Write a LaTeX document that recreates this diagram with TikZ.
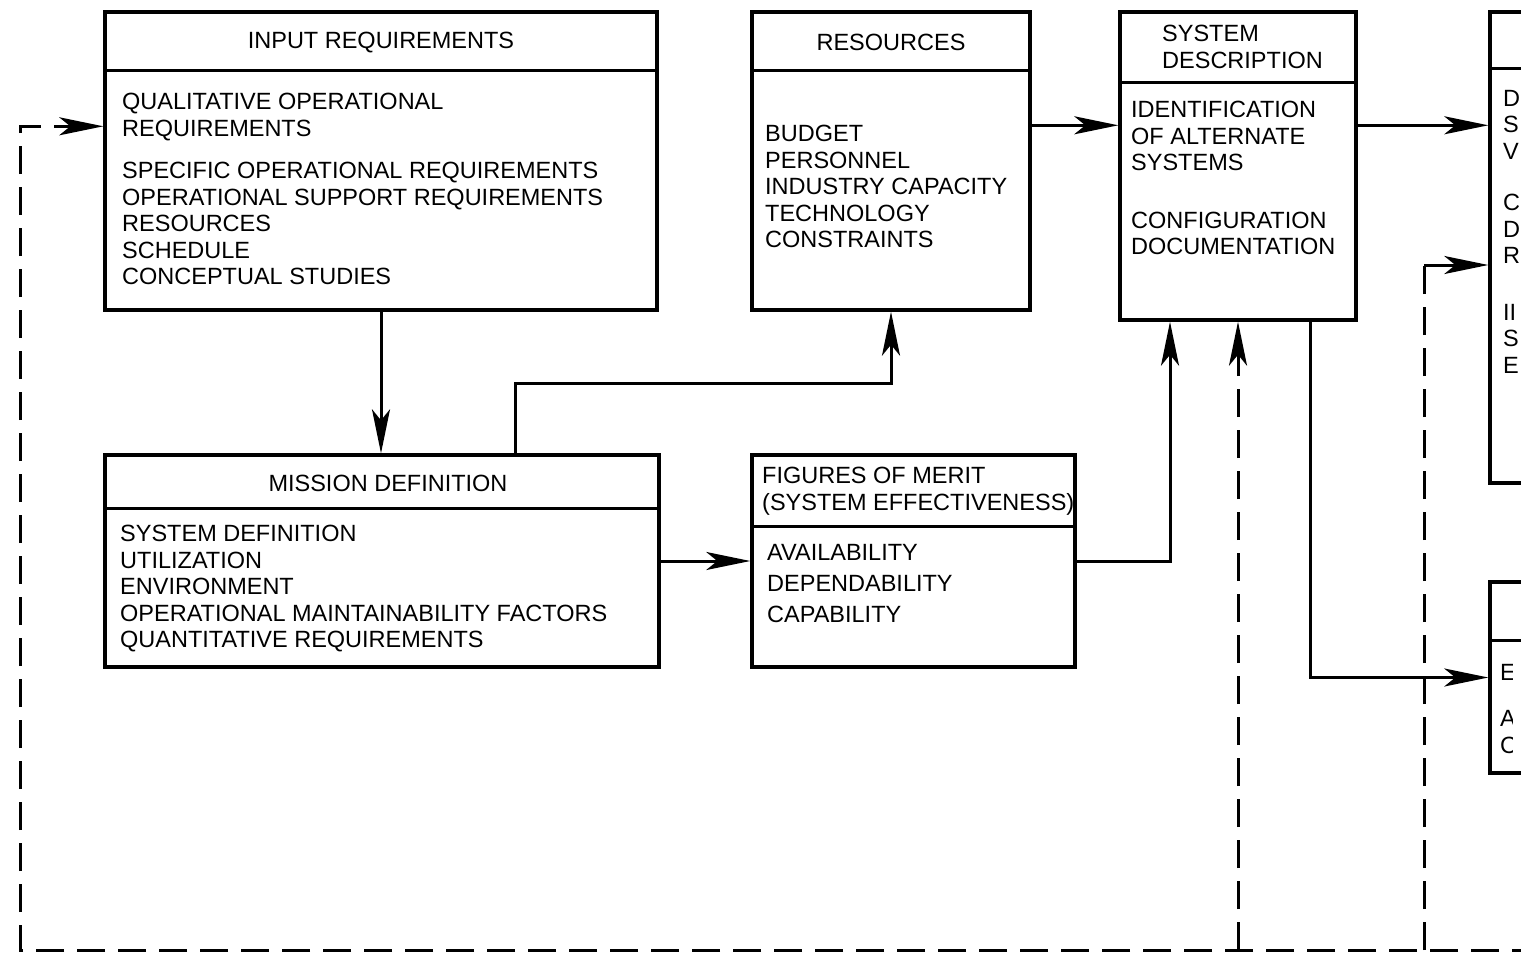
\documentclass[tikz,border=0pt]{standalone}
\usepackage{fontspec}
\setmainfont{Liberation Sans}
\usetikzlibrary{arrows.meta,calc}

\begin{document}
\begin{tikzpicture}[x=1pt,y=-1pt,
  blk/.style={draw,line width=3.4pt,inner sep=0pt},
  hdr/.style={line width=3.4pt},
  txt/.style={anchor=north west,align=left,inner sep=0pt,font=\fontsize{23.5}{26.5}\selectfont},
  ttl/.style={inner sep=0pt,font=\fontsize{23.5}{26.5}\selectfont},
  arr/.style={line width=3pt,-{Stealth[length=44pt,width=18pt,inset=11pt]}},
  fb/.style={line width=3pt,dash pattern=on 28pt off 13pt}]
\useasboundingbox (0,0) rectangle (1521,966);
\clip (0,0) rectangle (1521,966);

\node[blk,minimum width=552pt,minimum height=298pt] (inreq) at (381,161) {};
\draw[hdr] ($(inreq.north west)+(0,60)$) -- ($(inreq.north east)+(0,60)$);
\node[blk,minimum width=278pt,minimum height=298pt] (res) at (891,161) {};
\draw[hdr] ($(res.north west)+(0,60)$) -- ($(res.north east)+(0,60)$);
\node[blk,minimum width=236pt,minimum height=308pt] (sysd) at (1238,166) {};
\draw[hdr] ($(sysd.north west)+(0,72)$) -- ($(sysd.north east)+(0,72)$);
\node[blk,minimum width=110pt,minimum height=471pt] (outbox) at (1545,247.5) {};
\draw[hdr] ($(outbox.north west)+(0,58)$) -- ($(outbox.north east)+(0,58)$);
\node[blk,minimum width=554pt,minimum height=212pt] (mission) at (382,561) {};
\draw[hdr] ($(mission.north west)+(0,55)$) -- ($(mission.north east)+(0,55)$);
\node[blk,minimum width=323pt,minimum height=212pt] (fom) at (913.5,561) {};
\draw[hdr] ($(fom.north west)+(0,73)$) -- ($(fom.north east)+(0,73)$);
\node[blk,minimum width=110pt,minimum height=191pt] (evalbox) at (1545,677.5) {};
\draw[hdr] ($(evalbox.north west)+(0,60)$) -- ($(evalbox.north east)+(0,60)$);

\node[ttl] (inreqt) at (381,43) {INPUT REQUIREMENTS};
\node[txt] (inreqb) at (122,93) {QUALITATIVE OPERATIONAL\\REQUIREMENTS\\[16pt]SPECIFIC OPERATIONAL REQUIREMENTS\\OPERATIONAL SUPPORT REQUIREMENTS\\RESOURCES\\SCHEDULE\\CONCEPTUAL STUDIES};
\node[ttl] (rest) at (891,42) {RESOURCES};
\node[txt] (resb) at (765,125) {BUDGET\\PERSONNEL\\INDUSTRY CAPACITY\\TECHNOLOGY\\CONSTRAINTS};
\node[txt] (sysdt) at (1162,25) {SYSTEM\\DESCRIPTION};
\node[txt] (sysdb) at (1131,101) {IDENTIFICATION\\OF ALTERNATE\\SYSTEMS\\[31pt]CONFIGURATION\\DOCUMENTATION};
\node[txt] (outb) at (1503,90) {D\\S\\V\\[25pt]C\\D\\R\\[30pt]II\\S\\E};
\node[ttl] (missiont) at (388,483) {MISSION DEFINITION};
\node[txt] (missionb) at (120,525) {SYSTEM DEFINITION\\UTILIZATION\\ENVIRONMENT\\OPERATIONAL MAINTAINABILITY FACTORS\\QUANTITATIVE REQUIREMENTS};
\node[txt] (fomt) at (762,467) {FIGURES OF MERIT\\(SYSTEM EFFECTIVENESS)};
\node[txt] (fomb) at (767,544) {AVAILABILITY\\[4.5pt]DEPENDABILITY\\[4.5pt]CAPABILITY};
\begin{scope}
\clip (1490,640) rectangle (1512,780);
\node[txt] (evalb) at (1500,664) {E\\[20pt]A\\C};
\end{scope}

\draw[arr] (inreq.south) -- (inreq.south |- mission.north);
\draw[arr] ($(mission.north west)+(412,0)$) -- ++(0,-70) -| (res.south);
\draw[arr] (mission.east) -- (fom.west);
\draw[arr] (fom.east) -| ($(sysd.south)+(-68,0)$);
\draw[arr] ($(res.north east)+(0,115)$) -- ($(sysd.north west)+(0,115)$);
\draw[arr] ($(sysd.north east)+(0,115)$) -- ($(outbox.north west)+(0,115)$);
\draw[arr] ($(sysd.south)+(72,0)$) |- (evalbox.west);

\coordinate (fbr) at (1540,950);
\coordinate (fbl) at (20,950);
\coordinate (fbk) at (1424,265);
\draw[fb,arr] (fbr) -- (fbl) |- ($(inreq.north west)+(0,116)$);
\draw[fb,arr] (sysd.south |- fbl) -- (sysd.south);
\draw[fb] (fbk |- fbl) -- (fbk);
\draw[arr] (fbk) -- (fbk -| outbox.west);
\end{tikzpicture}
\end{document}
